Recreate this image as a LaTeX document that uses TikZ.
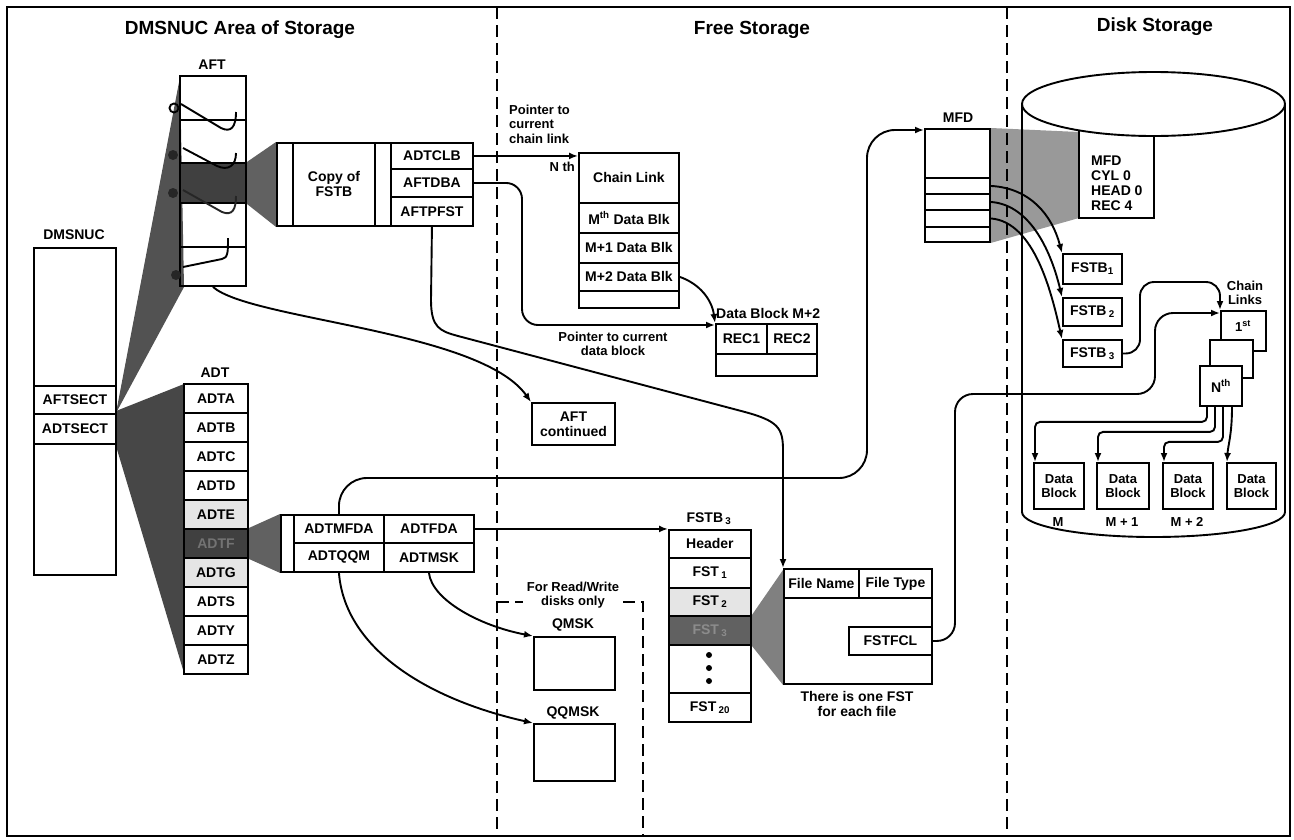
\documentclass[tikz,border=0pt]{standalone}
\usepackage{fontspec}
\setmainfont{Liberation Sans}
\usetikzlibrary{arrows.meta,calc,backgrounds}
\newcommand\fhdr{\bfseries\fontsize{19}{22}\selectfont}
\newcommand\flbl{\bfseries\fontsize{14}{15}\selectfont}
\newcommand\fsml{\bfseries\fontsize{13}{14.5}\selectfont}
\begin{document}
\begin{tikzpicture}[x=1pt,y=-1pt,
  box/.style={draw, line width=1.9pt, anchor=north west, inner sep=0pt, align=center, font=\flbl},
  conn/.style={line width=1.9pt},
  arr/.style={line width=1.9pt, -{Latex[length=9pt,width=7pt]}},
  divider/.style={line width=2.2pt, dash pattern=on 12pt off 6pt},
  lab/.style={font=\flbl, inner sep=0pt},
  sml/.style={font=\fsml, inner sep=0pt, align=center},
  darkrow/.style={fill=black!75, text=black!55},
  lightrow/.style={fill=black!10},
]
\useasboundingbox (0,0) rectangle (1294,839);
\draw[line width=1.9pt] (7,7) rectangle (1290,836);

% headers
\node[font=\fhdr] (h1) at (240,30) {DMSNUC Area of Storage};
\node[font=\fhdr] (h2) at (752,30) {Free Storage};
\node[font=\fhdr] (h3) at (1155,27) {Disk Storage};

% DMSNUC
\node[lab] (ldms) at (74,235) {DMSNUC};
\node[box, minimum width=82pt, minimum height=327pt] (dmsnuc) at (33,247) {};
\node[box, minimum width=82pt, minimum height=28pt] (aftsect) at (33,385) {AFTSECT};
\node[box, minimum width=82pt, minimum height=30pt] (adtsect) at (33,413) {ADTSECT};

% AFT
\node[lab] (laft) at (212,65) {AFT};
\node[box, minimum width=66pt, minimum height=44pt] (aft1) at (179,75) {};
\node[box, minimum width=66pt, minimum height=43pt] (aft2) at (179,119) {};
\node[box, darkrow, minimum width=66pt, minimum height=40pt] (aft3) at (179,162) {};
\node[box, minimum width=66pt, minimum height=44pt] (aft4) at (179,202) {};
\node[box, minimum width=66pt, minimum height=39pt] (aft5) at (179,246) {};
% chain hooks in AFT
\draw[conn] (181,104) -- (221,128) .. controls (231,133) and (236,127) .. (236,112);
\draw[conn] (174,108) circle (4.5pt);
\draw[conn] (183,148) -- (217,166) .. controls (228,171) and (236,166) .. (236,153);
\fill[black!85] (173,155) circle (5pt);
\draw[conn, black!85] (183,190) -- (222,212) .. controls (232,216) and (236,210) .. (236,196);
\fill[black!85] (173,193) circle (5pt);
\draw[conn] (183,267) -- (222,259) .. controls (228,258) and (228,252) .. (228,238);
\fill[black!85] (176,275) circle (5pt);

% Copy of FSTB
\node[box, minimum width=16pt, minimum height=83pt] (cpa) at (276,142) {};
\node[box, minimum width=82pt, minimum height=83pt] (cpb) at (292,142) {Copy of\\FSTB};
\node[box, minimum width=16pt, minimum height=83pt] (cpc) at (374,142) {};
\node[box, minimum width=82pt, minimum height=26pt] (adtclb) at (390,142) {ADTCLB};
\node[box, minimum width=82pt, minimum height=28pt] (aftdba) at (390,168) {AFTDBA};
\node[box, minimum width=82pt, minimum height=29pt] (aftpfst) at (390,196) {AFTPFST};

% Chain link in free storage
\node[sml, anchor=west, align=left] (p1) at (509,124) {Pointer to\\current\\chain link};
\node[sml, anchor=east] (lnth) at (575,167) {N th};
\node[box, minimum width=100pt, minimum height=50pt] (chl) at (578,152) {Chain Link};
\node[box, minimum width=100pt, minimum height=30pt] (mth) at (578,202) {M\textsuperscript{th} Data Blk};
\node[box, minimum width=100pt, minimum height=30pt] (m1) at (578,232) {M+1 Data Blk};
\node[box, minimum width=100pt, minimum height=28pt] (m2) at (578,262) {M+2 Data Blk};
\node[box, minimum width=100pt, minimum height=17pt] (mend) at (578,290) {};

% Data block M+2
\node[lab, anchor=west] (ldb) at (716,313) {Data Block M+2};
\node[box, minimum width=101pt, minimum height=52pt] (blkm2) at (715,323) {};
\node[box, minimum width=51pt, minimum height=30pt] (rec1) at (715,323) {REC1};
\node[box, minimum width=50pt, minimum height=30pt] (rec2) at (766,323) {REC2};
\node[sml] (p2) at (613,344) {Pointer to current\\data block};

% AFT continued
\node[box, minimum width=83pt, minimum height=42pt] (aftc) at (531,402) {AFT\\continued};

% ADT
\node[lab] (ladt) at (215,373) {ADT};
\node[box, minimum width=64pt, minimum height=29pt] (adta) at (183,383) {ADTA};
\node[box, minimum width=64pt, minimum height=29pt] (adtb) at (183,412) {ADTB};
\node[box, minimum width=64pt, minimum height=29pt] (adtc) at (183,441) {ADTC};
\node[box, minimum width=64pt, minimum height=29pt] (adtd) at (183,470) {ADTD};
\node[box, lightrow, minimum width=64pt, minimum height=29pt] (adte) at (183,499) {ADTE};
\node[box, darkrow, minimum width=64pt, minimum height=29pt] (adtf) at (183,528) {ADTF};
\node[box, lightrow, minimum width=64pt, minimum height=29pt] (adtg) at (183,557) {ADTG};
\node[box, minimum width=64pt, minimum height=29pt] (adts) at (183,586) {ADTS};
\node[box, minimum width=64pt, minimum height=29pt] (adty) at (183,615) {ADTY};
\node[box, minimum width=64pt, minimum height=29pt] (adtz) at (183,644) {ADTZ};

% ADTMFDA block
\node[box, minimum width=13pt, minimum height=57pt] (adtl) at (280,514) {};
\node[box, minimum width=90pt, minimum height=28pt] (adtmfda) at (293,514) {ADTMFDA};
\node[box, minimum width=90pt, minimum height=28pt] (adtfda) at (383,514) {ADTFDA};
\node[box, minimum width=90pt, minimum height=29pt] (adtqqm) at (293,542) {ADTQQM};
\node[box, minimum width=90pt, minimum height=29pt] (adtmsk) at (383,542) {ADTMSK};

% QMSK
\node[sml] (rw) at (573,595) {For Read/Write\\disks only};
\node[lab] (lq) at (573,625) {QMSK};
\node[box, minimum width=81pt, minimum height=53pt] (qmsk) at (533,636) {};
\node[lab] (lqq) at (573,713) {QQMSK};
\node[box, minimum width=81pt, minimum height=57pt] (qqmsk) at (533,723) {};

% FSTB3 in free storage
\node[lab] (lfstb) at (709,519) {FSTB\,\textsubscript{3}};
\node[box, minimum width=82pt, minimum height=28pt] (fsthdr) at (668,529) {Header};
\node[box, minimum width=82pt, minimum height=30pt] (fst1) at (668,557) {FST\,\textsubscript{1}};
\node[box, lightrow, minimum width=82pt, minimum height=28pt] (fst2) at (668,587) {FST\,\textsubscript{2}};
\node[box, fill=black!62, text=black!45, minimum width=82pt, minimum height=29pt] (fst3) at (668,615) {FST\,\textsubscript{3}};
\node[box, minimum width=82pt, minimum height=48pt] (fstdots) at (668,644) {};
\fill (709,655) circle (3pt);
\fill (709,668) circle (3pt);
\fill (709,681) circle (3pt);
\node[box, minimum width=82pt, minimum height=29pt] (fst20) at (668,692) {FST\,\textsubscript{20}};

% File entry
\node[box, minimum width=148pt, minimum height=115pt] (filebox) at (783,568) {};
\node[box, minimum width=75pt, minimum height=29pt] (fname) at (783,568) {File Name};
\node[box, minimum width=73pt, minimum height=29pt] (ftype) at (858,568) {File Type};
\node[box, minimum width=83pt, minimum height=28pt] (fstfcl) at (848,626) {FSTFCL};
\node[sml, font=\flbl] (onefst) at (857,704) {There is one FST\\for each file};

% MFD
\node[lab] (lmfd) at (958,118) {MFD};
\node[box, minimum width=65pt, minimum height=49pt] (mfd) at (924,128) {};
\node[box, minimum width=65pt, minimum height=16pt] (mfdr1) at (924,177) {};
\node[box, minimum width=65pt, minimum height=16pt] (mfdr2) at (924,193) {};
\node[box, minimum width=65pt, minimum height=17pt] (mfdr3) at (924,209) {};
\node[box, minimum width=65pt, minimum height=15pt] (mfdr4) at (924,226) {};

% Disk cylinder
\draw[conn] (1153.5,104) ellipse [x radius=131.5pt, y radius=32pt];
\draw[conn] (1022,104) -- (1022,512) .. controls (1022,526) and (1081,537) .. (1153.5,537)
  .. controls (1226,537) and (1285,526) .. (1285,512) -- (1285,104);
\node[font=\flbl, align=left, anchor=west, inner sep=0pt] (mfdd) at (1091,183) {MFD\\CYL 0\\HEAD 0\\REC 4};
\draw[conn] (1079,130) -- (1079,218) -- (1154,218) -- (1154,136);

\node[box, minimum width=59pt, minimum height=30pt] (fb1) at (1062,253) {FSTB\textsubscript{1}};
\node[box, minimum width=59pt, minimum height=28pt] (fb2) at (1062,297) {FSTB\,\textsubscript{2}};
\node[box, minimum width=59pt, minimum height=27pt] (fb3) at (1062,339) {FSTB\,\textsubscript{3}};

\node[sml] (lcl) at (1245,293) {Chain\\Links};
\node[box, fill=white, minimum width=45pt, minimum height=40pt] (cl1) at (1220,310) {};
\node[sml] (t1st) at (1243,326) {1\textsuperscript{st}};
\node[box, fill=white, minimum width=43pt, minimum height=38pt] (cl2) at (1209,339) {};
\node[box, fill=white, minimum width=42pt, minimum height=40pt] (cln) at (1199,365) {N\textsuperscript{th}};

\node[box, font=\fsml, minimum width=50pt, minimum height=46pt] (dA) at (1033,462) {Data\\Block};
\node[box, font=\fsml, minimum width=52pt, minimum height=46pt] (dB) at (1096,462) {Data\\Block};
\node[box, font=\fsml, minimum width=50pt, minimum height=46pt] (dC) at (1162,462) {Data\\Block};
\node[box, font=\fsml, minimum width=49pt, minimum height=46pt] (dD) at (1226,462) {Data\\Block};
\node[sml] (lM) at (1058,522) {M};
\node[sml] (lM1) at (1122,522) {M + 1};
\node[sml] (lM2) at (1187,522) {M + 2};

% background: fans and dividers
\begin{scope}[on background layer]
  \fill[black!68] (116,413) -- (180,77) -- (184,287) -- cycle;
  \fill[black!72] (116,411) -- (184,384) -- (184,673) -- (116,446) -- cycle;
  \fill[black!62] (aft3.north east) -- (cpa.north west) -- (cpa.south west) -- (aft3.south east) -- cycle;
  \fill[black!62] (adtf.north east) -- (adtl.north west) -- (adtl.south west) -- (adtf.south east) -- cycle;
  \fill[black!50] (fst3.north east) -- ([yshift=-2pt]filebox.north west) -- (filebox.south west) -- (fst3.south east) -- cycle;
  \fill[black!40] (mfd.north east) -- (1079,132) -- (1079,218) -- (mfdr4.south east) -- cycle;
  \draw[divider] (497,7) -- (497,836);
  \draw[divider] (1007,7) -- (1007,836);
  \draw[divider] (497,602) -- (523,602);
  \draw[divider] (623,602) -- (643,602) -- (643,836);
\end{scope}

% connectors
\draw[arr] (adtclb.east) -- (adtclb.east -| chl.west);
\draw[arr, rounded corners=16pt] (aftdba.east) -| (522,325) -- ([yshift=-2pt]blkm2.north west);
\draw[arr] (m2.east) .. controls (700,284) and (712,300) .. (blkm2.north west);
\draw[arr] (aftpfst.south) -- (431,300) .. controls (431,328) and (440,331) .. (458,336)
  -- (745,412) .. controls (778,421) and (783,428) .. (783,450) -- (filebox.north west);
\draw[arr] (aft5.south) .. controls (250,320) and (480,330) .. (aftc.north west);
\draw[arr, rounded corners=28pt] (adtmfda.north) |- (867,478) |- ([yshift=-2pt]mfd.north west);
\draw[arr] (adtfda.east) -- (adtfda.east -| fsthdr.west);
\draw[arr] (adtmsk.south) .. controls (432,600) and (480,626) .. (qmsk.north west);
\draw[arr] (adtqqm.south) .. controls (345,650) and (430,700) .. (qqmsk.north west);
\draw[arr] (mfdr1.east) .. controls (1030,188) and (1052,215) .. (fb1.north west);
\draw[arr] (mfdr2.east) .. controls (1032,205) and (1052,255) .. (fb2.north west);
\draw[arr] (mfdr3.east) .. controls (1035,222) and (1052,295) .. (fb3.north west);
\draw[arr, rounded corners=14pt] (fb3.east) -| (1140,282) -| (cl1.north west);
\draw[arr, rounded corners=18pt] (fstfcl.east) -| (955,394) -| (1155,313) -- ([yshift=-3pt]cl1.north west);
\draw[arr, rounded corners=5pt] ([xshift=8pt]cln.south west) -- ++(0,15) -| ([xshift=2pt]dA.north west);
\draw[arr, rounded corners=5pt] ([xshift=16pt]cln.south west) -- ++(0,25) -| ([xshift=2pt]dB.north west);
\draw[arr, rounded corners=5pt] ([xshift=24pt]cln.south west) -- ++(0,35) -| ([xshift=2pt]dC.north west);
\draw[arr] ([xshift=33pt]cln.south west) .. controls (1232,435) and (1228,445) .. ([xshift=1pt]dD.north west);
\end{tikzpicture}
\end{document}
